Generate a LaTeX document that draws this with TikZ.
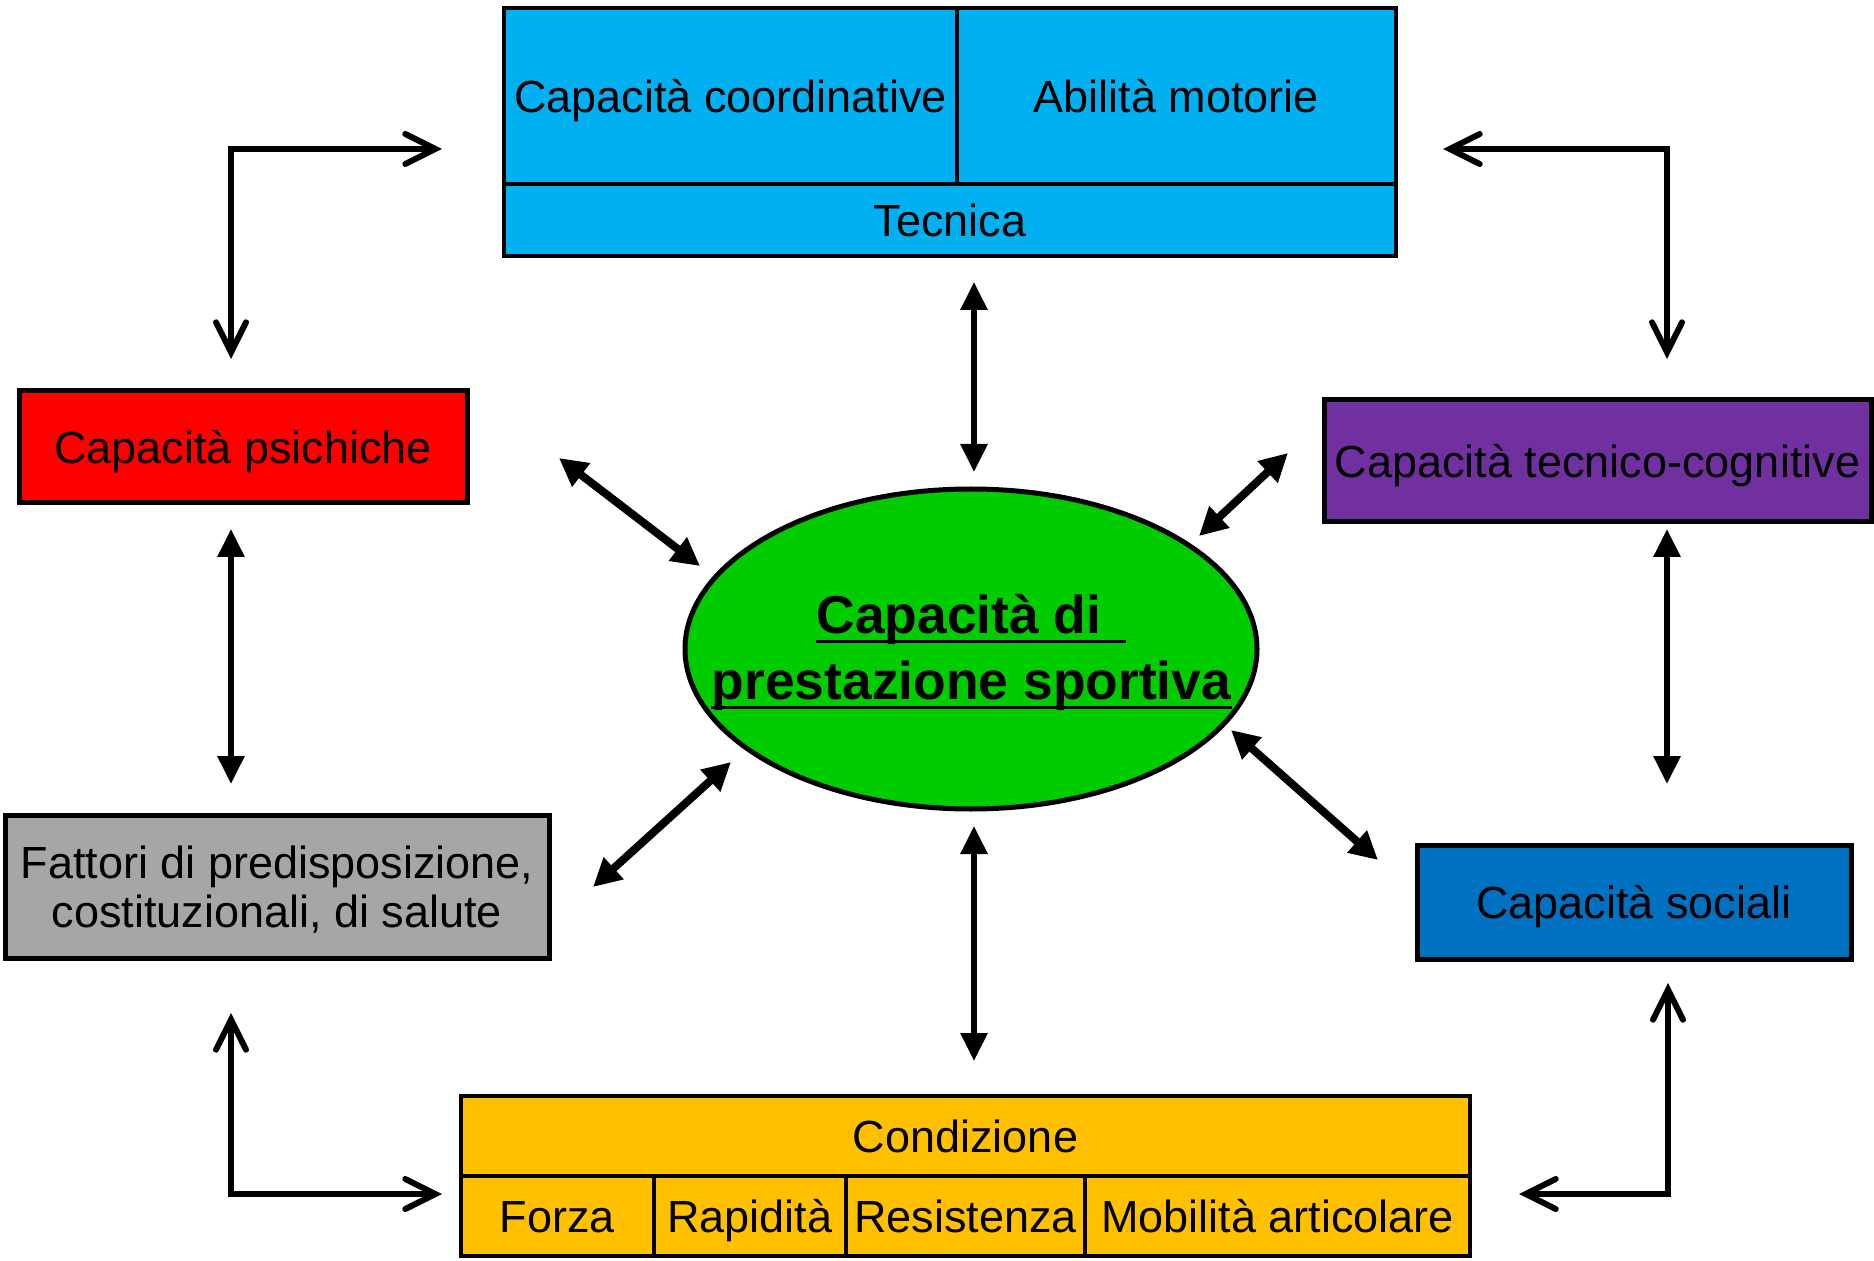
\documentclass[tikz,border=0pt]{standalone}
\usepackage{fontspec}
\setmainfont{Liberation Sans}
\usetikzlibrary{arrows.meta,shapes.geometric}
\definecolor{skyblue}{HTML}{00B0F0}
\definecolor{psired}{HTML}{FF0000}
\definecolor{cogpurple}{HTML}{7030A0}
\definecolor{factgray}{HTML}{A6A6A6}
\definecolor{socblue}{HTML}{0070C0}
\definecolor{condorange}{HTML}{FFC000}
\definecolor{coregreen}{HTML}{00CC00}
\begin{document}
\begin{tikzpicture}[x=0.5pt,y=-0.5pt,
  every node/.style={font=\fontsize{22.5}{24.75}\selectfont, text=black},
  box/.style={draw=black, line width=2.5pt, inner sep=0pt, outer sep=0pt, align=center,
    text height=16.2pt, text depth=0pt},
  cell/.style={box, line width=2.2pt},
  barbarrow/.style={line width=3pt, line join=miter,
    {Straight Barb[length=15pt,width=15pt,line cap=round]}-{Straight Barb[length=15pt,width=15pt,line cap=round]}},
  tri/.style={line width=3pt,
    {Triangle[length=14pt,width=13pt]}-{Triangle[length=14pt,width=13pt]}},
  diag/.style={line width=4pt,
    {Triangle[length=14pt,width=14pt]}-{Triangle[length=14pt,width=14pt]}},
  ul/.style={line width=1.5pt}
]
\useasboundingbox (0,0) rectangle (1874,1261);

% technique block
\node[cell, fill=skyblue, minimum width=226.5pt, minimum height=88pt] (coord) at (730.5,96) {Capacità coordinative};
\node[cell, fill=skyblue, minimum width=219.5pt, minimum height=88pt] (motor) at (1176.5,96) {Abilità motorie};
\node[cell, fill=skyblue, minimum width=446pt, minimum height=36pt] (tecn) at (950,220) {Tecnica};

% side boxes
\node[box, fill=psired, minimum width=224pt, minimum height=56pt] (psich) at (243,447) {Capacità psichiche};
\node[box, fill=cogpurple, minimum width=273.5pt, minimum height=61pt] (tecog) at (1597.5,461) {Capacità tecnico-cognitive};
\node[box, fill=factgray, minimum width=272pt, minimum height=71.5pt, text height=41pt] (fatt) at (277,886.5) {Fattori di predisposizione,\\costituzionali, di salute};
\node[box, fill=socblue, minimum width=217pt, minimum height=57pt] (soc) at (1634,902) {Capacità sociali};

% condition block
\node[cell, fill=condorange, minimum width=504.5pt, minimum height=40pt] (cond) at (965.5,1136) {Condizione};
\node[cell, fill=condorange, minimum width=96.5pt, minimum height=40pt] (forza) at (557.5,1216) {Forza};
\node[cell, fill=condorange, minimum width=96pt, minimum height=40pt] (rapid) at (750,1216) {Rapidità};
\node[cell, fill=condorange, minimum width=119.5pt, minimum height=40pt] (resist) at (965.5,1216) {Resistenza};
\node[cell, fill=condorange, minimum width=192.5pt, minimum height=40pt] (mobil) at (1277.5,1216) {Mobilità articolare};

% central ellipse
\node[ellipse, draw=black, line width=2.5pt, fill=coregreen, minimum width=286pt, minimum height=160pt, inner sep=0pt] (core) at (971,649) {};
\node[font=\bfseries\fontsize{26.7}{33}\selectfont, anchor=base, inner sep=0pt] (t1) at (959,633) {Capacità di};
\node[font=\bfseries\fontsize{26.7}{33}\selectfont, anchor=base, inner sep=0pt] (t2) at (971.5,699) {prestazione sportiva};
\draw[ul] ([yshift=-4.5pt]t1.base west) -- ([xshift=12pt,yshift=-4.5pt]t1.base east);
\draw[ul] ([yshift=-4pt]t2.base west) -- ([yshift=-4pt]t2.base east);

% arrow end points
\coordinate (tlA) at (231,359);  \coordinate (tlB) at (442,149);
\coordinate (trA) at (1667,359); \coordinate (trB) at (1443,149);
\coordinate (blA) at (231,1013); \coordinate (blB) at (442,1194);
\coordinate (brA) at (1668,983); \coordinate (brB) at (1519,1194);

\coordinate (lvA) at (231,529);  \coordinate (lvB) at (231,784);
\coordinate (rvA) at (1667,529); \coordinate (rvB) at (1667,784);
\coordinate (tcA) at (974,282);  \coordinate (tcB) at (974,472);
\coordinate (bcA) at (974,826);  \coordinate (bcB) at (974,1061);

\coordinate (d1A) at (559,458);  \coordinate (d1B) at (700,566);
\coordinate (d2A) at (1288,453); \coordinate (d2B) at (1199,536);
\coordinate (d3A) at (731,762);  \coordinate (d3B) at (593,887);
\coordinate (d4A) at (1231,730); \coordinate (d4B) at (1378,860);

% corner connectors
\draw[barbarrow] (tlA) |- (tlB);
\draw[barbarrow] (trA) |- (trB);
\draw[barbarrow] (blA) |- (blB);
\draw[barbarrow] (brA) |- (brB);

% straight connectors
\draw[tri] (lvA) -- (lvB);
\draw[tri] (rvA) -- (rvB);
\draw[tri] (tcA) -- (tcB);
\draw[tri] (bcA) -- (bcB);

% diagonal connectors
\draw[diag] (d1A) -- (d1B);
\draw[diag] (d2A) -- (d2B);
\draw[diag] (d3A) -- (d3B);
\draw[diag] (d4A) -- (d4B);
\end{tikzpicture}
\end{document}
